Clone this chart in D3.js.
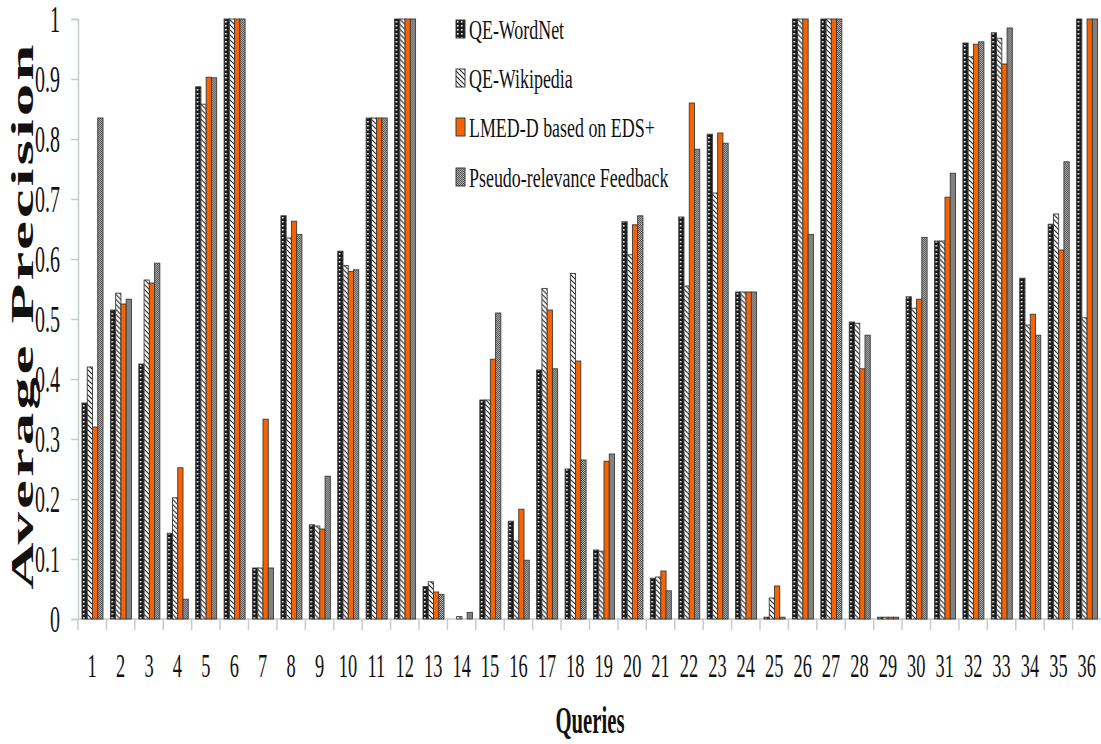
<!DOCTYPE html>
<html><head><meta charset="utf-8">
<script src="https://cdn.jsdelivr.net/npm/d3@7"></script>
<style>html,body{margin:0;padding:0;background:#fff;}svg{display:block;}</style>
</head><body>
<svg id="chart" width="1101" height="744"></svg>
<script>
const queries = d3.range(1, 37).map(String);
const seriesNames = ["QE-WordNet", "QE-Wikipedia", "LMED-D based on EDS+", "Pseudo-relevance Feedback"];
const wordnet = [0.36,0.515,0.425,0.143,0.887,1,0.085,0.672,0.157,0.613,0.835,1,0.054,0,0.365,0.163,0.415,0.25,0.115,0.662,0.068,0.67,0.808,0.545,0.003,1,1,0.495,0.003,0.537,0.63,0.96,0.977,0.568,0.658,1];
const wikipedia = [0.42,0.543,0.565,0.202,0.858,1,0.085,0.635,0.155,0.589,0.835,1,0.062,0.004,0.365,0.13,0.551,0.576,0.113,0.607,0.07,0.555,0.71,0.545,0.035,1,1,0.493,0.003,0.518,0.63,0.937,0.968,0.49,0.675,0.502];
const lmed = [0.32,0.525,0.56,0.252,0.903,1,0.333,0.663,0.15,0.579,0.835,1,0.045,0,0.433,0.183,0.515,0.43,0.263,0.657,0.08,0.86,0.81,0.545,0.055,1,1,0.417,0.003,0.533,0.703,0.958,0.925,0.508,0.615,1];
const prf = [0.835,0.533,0.593,0.033,0.902,1,0.085,0.641,0.238,0.582,0.835,1,0.041,0.011,0.51,0.098,0.417,0.265,0.275,0.672,0.047,0.783,0.793,0.545,0.003,0.641,1,0.473,0.003,0.636,0.743,0.962,0.985,0.473,0.762,1];
const yTicks = [0,0.1,0.2,0.3,0.4,0.5,0.6,0.7,0.8,0.9,1];
const yTickLabels = ["0","0.1","0.2","0.3","0.4","0.5","0.6","0.7","0.8","0.9","1"];

const allSeries = [wordnet, wikipedia, lmed, prf];
const fills = ["url(#pWordnet)", "url(#pWiki)", "#f96200", "url(#pPrf)"];

const svg = d3.select("#chart");
const margin = {left: 78, right: 0, top: 19, bottom: 125};
const W = 1101, H = 744;
const FONT = "'Liberation Serif', 'Times New Roman', serif";

// patterns
const defs = svg.append("defs");
const p1 = defs.append("pattern").attr("id","pWordnet").attr("patternUnits","userSpaceOnUse").attr("width",4).attr("height",4);
p1.append("rect").attr("width",4).attr("height",4).attr("fill","#1a1a1a");
p1.append("rect").attr("x",1).attr("y",1).attr("width",1.6).attr("height",1.6).attr("fill","#f4f4f4");
const p2 = defs.append("pattern").attr("id","pWiki").attr("patternUnits","userSpaceOnUse").attr("width",5).attr("height",5);
p2.append("rect").attr("width",5).attr("height",5).attr("fill","#ffffff");
p2.append("path").attr("d","M0,0 L5,5 M-1,4 L1,6 M4,-1 L6,1").attr("stroke","#222").attr("stroke-width",1.1);
const p4 = defs.append("pattern").attr("id","pPrf").attr("patternUnits","userSpaceOnUse").attr("width",2).attr("height",2);
p4.append("rect").attr("width",2).attr("height",2).attr("fill","#b4b4b4");
p4.append("rect").attr("width",1).attr("height",1).attr("fill","#505050");
p4.append("rect").attr("x",1).attr("y",1).attr("width",1).attr("height",1).attr("fill","#505050");

const x0 = d3.scaleBand().domain(queries).range([margin.left, W - margin.right]).padding(0);
const x1 = d3.scaleBand().domain(d3.range(4)).range([4, 25]).padding(0);
const y = d3.scaleLinear().domain([0, 1]).range([H - margin.bottom, margin.top]);

const SX = 0.54; // horizontal squeeze of the serif labels

// y axis
const yAxis = svg.append("g").attr("transform", `translate(${margin.left},0)`)
  .call(d3.axisLeft(y).tickValues(yTicks).tickFormat((d,i) => yTickLabels[i]).tickSize(7).tickPadding(11));
yAxis.select(".domain").attr("stroke", "#c4cccc").attr("stroke-width", 1.5);
yAxis.selectAll(".tick line").attr("stroke", "#c4cccc").attr("stroke-width", 1.5);
yAxis.selectAll(".tick text").attr("font-family", FONT).attr("font-size", 37).attr("fill", "#111")
  .attr("dy", "0.35em").attr("x", -18 / SX).attr("transform", `scale(${SX},1)`);

// x axis line and boundary ticks
const xAxisG = svg.append("g").attr("transform", `translate(0,${y(0)})`);
xAxisG.append("line").attr("x1", margin.left).attr("x2", W).attr("y1", 0).attr("y2", 0).attr("stroke", "#c4cccc").attr("stroke-width", 1.5);
xAxisG.selectAll("line.b").data(queries).enter().append("line").attr("class","b")
  .attr("x1", d => x0(d)).attr("x2", d => x0(d)).attr("y1", 0).attr("y2", 11)
  .attr("stroke", "#c4cccc").attr("stroke-width", 1.5);
xAxisG.selectAll("g.xl").data(queries).enter().append("g").attr("class","xl")
  .attr("transform", d => `translate(${x0(d) + x0.bandwidth()/2},58) scale(${SX},1)`)
  .append("text").attr("text-anchor", "middle").attr("font-family", FONT).attr("font-size", 34).attr("fill", "#111")
  .text(d => d);

// bars
const groups = svg.append("g").selectAll("g").data(queries).enter().append("g")
  .attr("transform", d => `translate(${x0(d)},0)`);
groups.selectAll("rect").data((d, i) => allSeries.map((s, k) => ({k, v: s[i]}))).enter().append("rect")
  .attr("x", d => x1(d.k)).attr("width", x1.bandwidth())
  .attr("y", d => y(d.v)).attr("height", d => y(0) - y(d.v))
  .attr("fill", d => fills[d.k])
  .attr("stroke", "#3a3a3a").attr("stroke-width", 0.9);

// axis titles
const TS = 2.1;
svg.append("g").attr("transform", `translate(33,317) rotate(-90) scale(${TS},1)`)
  .append("text").attr("text-anchor", "middle").attr("font-family", FONT).attr("font-weight", "bold").attr("font-size", 31)
  .attr("fill", "#111").attr("textLength", 545 / TS).attr("lengthAdjust", "spacing").text("Average Precision");
svg.append("g").attr("transform", `translate(590,733) scale(0.56,1)`)
  .append("text").attr("text-anchor", "middle")
  .attr("font-family", FONT).attr("font-weight", "bold").attr("font-size", 37).attr("fill", "#111").text("Queries");

// legend
const legend = svg.append("g");
const rowsY = [29, 78, 127, 177];
seriesNames.forEach((name, k) => {
  legend.append("rect").attr("x", 456).attr("y", rowsY[k] - 9).attr("width", 9).attr("height", 18)
    .attr("fill", fills[k]).attr("stroke", "#3a3a3a").attr("stroke-width", 1);
  legend.append("g").attr("transform", `translate(469,${rowsY[k] + 10}) scale(0.64,1)`)
    .append("text").attr("font-family", FONT).attr("font-size", 28).attr("fill", "#111").text(name);
});
</script>
</body></html>
